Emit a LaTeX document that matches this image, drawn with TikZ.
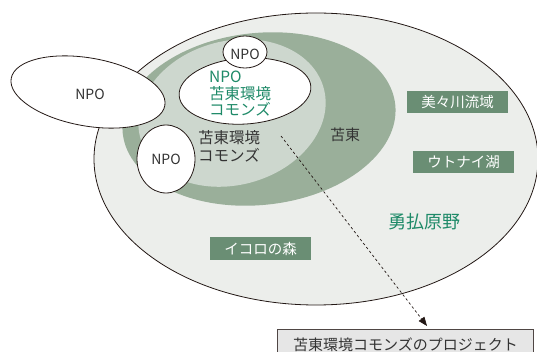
\documentclass[tikz,border=0pt]{standalone}
\usepackage{fontspec}
\setmainfont{Noto Sans CJK JP}
\usetikzlibrary{arrows.meta}
\definecolor{outerfill}{HTML}{ECEEEB}
\definecolor{darkband}{HTML}{9AAF9A}
\definecolor{lightband}{HTML}{CDD7CE}
\definecolor{labelbox}{HTML}{6A8E74}
\definecolor{jgreen}{HTML}{1E8A68}
\definecolor{ink}{HTML}{231815}
\definecolor{txt}{HTML}{333333}
\definecolor{projfill}{HTML}{E6E6E6}
\begin{document}
\begin{tikzpicture}[x=1pt,y=-1pt,
  outline/.style={draw=ink, line width=0.8pt},
  npo/.style={font=\fontsize{14}{16}\selectfont, text=txt, inner sep=0pt},
  area/.style={fill=labelbox, text=white, font=\fontsize{14.5}{16}\selectfont,
    minimum width=101pt, minimum height=22pt, inner sep=0pt},
  ]
\useasboundingbox (0,0) rectangle (537,352);
\clip (0,0) rectangle (537,352);
% regions
\draw[outline, fill=outerfill] (316,159) ellipse [x radius=222pt, y radius=146pt];
\fill[darkband, rotate around={6:(259,119)}] (259,119) ellipse [x radius=137pt, y radius=86pt];
\fill[lightband, rotate around={15:(232,113)}] (232,113) ellipse [x radius=95pt, y radius=72pt];
\draw[outline, fill=white, rotate around={4:(245,91)}] (245,91) ellipse [x radius=66pt, y radius=33pt];
\draw[outline, fill=white] (245,52) ellipse [x radius=22pt, y radius=16pt];
\draw[outline, fill=white] (166,159) ellipse [x radius=29pt, y radius=34pt];
\draw[outline, fill=white, rotate around={-10:(88,92)}] (88,92) ellipse [x radius=78pt, y radius=34pt];
% texts
\node[npo] (npoL) at (90,94) {NPO};
\node[npo] (npoT) at (245,54) {NPO};
\node[npo] (npoB) at (166,159) {NPO};
\node[font=\fontsize{15.5}{16.5}\selectfont, text=jgreen, align=left, anchor=west, inner sep=0pt] (commonsG) at (209,94) {NPO\\苫東環境\\コモンズ};
\node[font=\fontsize{15.5}{18}\selectfont, text=txt, align=left, anchor=west, inner sep=0pt] (commonsD) at (198,146) {苫東環境\\コモンズ};
\node[font=\fontsize{15}{16}\selectfont, text=txt] (tomakomai) at (345,135) {苫東};
\node[area] (bibi) at (457.5,102) {美々川流域};
\node[area] (utonai) at (463.5,162) {ウトナイ湖};
\node[area] (ikoro) at (260.5,248.5) {イコロの森};
\node[font=\fontsize{18}{20}\selectfont, text=jgreen] (yufutsu) at (424,222) {勇払原野};
\node[draw=ink!80, line width=0.8pt, fill=projfill, minimum width=256pt, minimum height=30pt,
  anchor=north west, inner sep=0pt, font=\fontsize{15}{16}\selectfont, text=txt] (proj) at (277,329) {苫東環境コモンズのプロジェクト};
% arrow
\coordinate (s) at (281,136);
\coordinate (t) at (427,326);
\draw[ink, line width=0.7pt, dash pattern=on 2.5pt off 2.5pt, -{Triangle[length=9pt,width=7pt]}] (s) -- (t);
\end{tikzpicture}
\end{document}
